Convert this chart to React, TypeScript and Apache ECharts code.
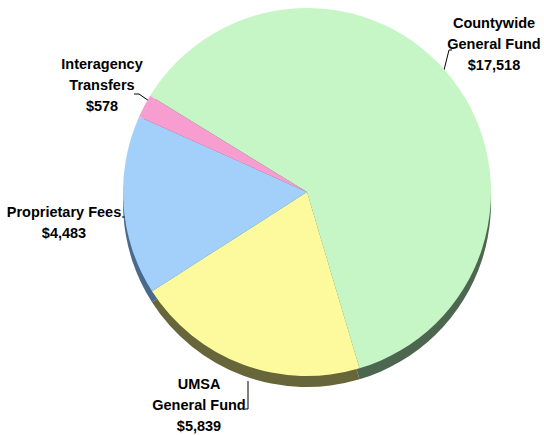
import React, { useEffect, useRef } from "react";
import * as echarts from "echarts";

const categories = [
  "Countywide\nGeneral Fund",
  "UMSA\nGeneral Fund",
  "Proprietary Fees",
  "Interagency\nTransfers",
];
const values = [17518, 5839, 4483, 578];
const colors = ["#c6f6c6", "#fcfa9c", "#a3d0fb", "#f89dcf"];
const rimColors = ["#4d6650", "#67663a", "#4a6a8a", "#8a4a6a"];

// label anchor positions (page coordinates; chart div sits at 0,0)
const labelPos = [
  { x: 494, y: 44, line: [[444, 70], [449, 50], [452, 50]] },
  { x: 199, y: 405, line: [[248, 381], [248, 409], [245, 409]] },
  { x: 64, y: 222, line: [[129, 207], [125, 217], [122, 217]] },
  { x: 102, y: 85, line: [[152, 103], [139, 94], [134, 94]] },
];

const fmt = (v: number) => "$" + v.toLocaleString("en-US");

export default function App() {
  const ref = useRef<HTMLDivElement>(null);
  useEffect(() => {
    if (!ref.current) return;
    const chart = echarts.init(ref.current, null, { renderer: "svg" });
    const data = categories.map((name, i) => ({
      name,
      value: values[i],
      itemStyle: { color: colors[i] },
    }));
    const rimData = categories.map((name, i) => ({
      name,
      value: values[i],
      itemStyle: { color: rimColors[i] },
    }));
    chart.setOption({
      animation: false,
      backgroundColor: "#ffffff",
      series: [
        {
          type: "pie",
          silent: true,
          center: [307, 203],
          radius: 184,
          startAngle: 148.5,
          clockwise: true,
          label: { show: false },
          labelLine: { show: false },
          data: rimData,
          z: 1,
        },
        {
          type: "pie",
          center: [307, 192],
          radius: 184,
          startAngle: 148.5,
          clockwise: true,
          z: 2,
          itemStyle: { borderWidth: 0 },
          label: {
            show: true,
            position: "outside",
            overflow: "none",
            formatter: (p: any) => p.name + "\n" + fmt(p.value),
            fontFamily: '"Liberation Sans Narrow", "Arial Narrow", "Liberation Sans", Arial, sans-serif',
            fontWeight: "bold",
            fontSize: 14.5,
            lineHeight: 21,
            color: "#000000",
            align: "center",
          },
          labelLine: {
            show: true,
            lineStyle: { color: "#000000", width: 1 },
          },
          labelLayout: (params: any) => {
            const p = labelPos[params.dataIndex];
            return {
              x: p.x,
              y: p.y,
              align: "center",
              verticalAlign: "middle",
              labelLinePoints: p.line,
            };
          },
          data,
        },
      ],
    });
    return () => chart.dispose();
  }, []);
  return (
    <div
      ref={ref}
      style={{ position: "absolute", left: 0, top: 0, width: 544, height: 435 }}
    />
  );
}
